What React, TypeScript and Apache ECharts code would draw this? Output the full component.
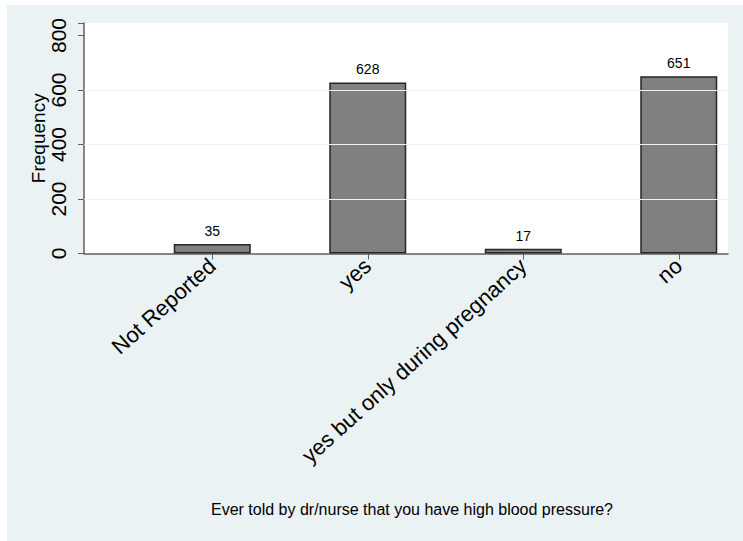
import React, { useEffect, useRef } from "react";
import * as echarts from "echarts";

const categories = ["Not Reported", "yes", "yes but only during pregnancy", "no"];
const frequencies = [35, 628, 17, 651];
const yTicks = [0, 200, 400, 600, 800];
const gridValues = [200, 400, 600];
const yAxisTitle = "Frequency";
const xAxisTitle = "Ever told by dr/nurse that you have high blood pressure?";

const FONT = "'Liberation Sans', Arial, Helvetica, sans-serif";
const BG = "#EAF2F3";
const AXIS = "#5f5f5f";
const YMAX = 846;

export default function App() {
  const ref = useRef<HTMLDivElement>(null);
  useEffect(() => {
    if (!ref.current) return;
    document.body.style.margin = "0";
    document.documentElement.style.overflow = "hidden";
    const chart = echarts.init(ref.current, undefined, { renderer: "svg" });
    const plotLeft = 84;
    const plotRight = 728;
    const plotTop = 23;
    const plotBottom = 253.5;
    const plotH = plotBottom - plotTop;
    chart.setOption({
      animation: false,
      backgroundColor: BG,
      textStyle: { fontFamily: FONT },
      graphic: [
        { type: "rect", z: 100, shape: { x: 0, y: 0, width: 780, height: 5 }, style: { fill: "#fff" } },
        { type: "rect", z: 100, shape: { x: 0, y: 0, width: 7, height: 580 }, style: { fill: "#fff" } },
        {
          type: "text",
          z: 100,
          x: 412,
          y: 509,
          style: {
            text: xAxisTitle,
            fontSize: 16,
            fontFamily: FONT,
            fill: "#000",
            align: "center",
            verticalAlign: "middle",
          },
        },
      ],
      grid: [
        {
          left: plotLeft,
          width: plotRight - plotLeft,
          top: plotTop,
          height: plotH,
          show: true,
          backgroundColor: "#ffffff",
          borderWidth: 0,
        },
        {
          left: 134.5,
          width: 622,
          top: plotTop,
          height: plotH,
        },
      ],
      xAxis: [
        {
          gridIndex: 0,
          type: "value",
          min: 0,
          max: 1,
          axisLine: { show: true, lineStyle: { color: AXIS, width: 1.5 } },
          axisTick: { show: false },
          axisLabel: { show: false },
          splitLine: { show: false },
        },
        {
          gridIndex: 1,
          type: "category",
          data: categories,
          axisLine: { show: false },
          axisTick: { show: true, alignWithLabel: true, length: 6, lineStyle: { color: AXIS, width: 1 } },
          axisLabel: {
            rotate: 42,
            fontSize: 22,
            color: "#000",
            fontFamily: FONT,
            margin: 9,
            interval: 0,
          },
          splitLine: { show: false },
        },
      ],
      yAxis: [
        {
          gridIndex: 0,
          type: "value",
          min: 0,
          max: YMAX,
          interval: 200,
          name: yAxisTitle,
          nameLocation: "middle",
          nameRotate: 90,
          nameGap: 36.5,
          nameMoveOverlap: false,
          nameTextStyle: { fontSize: 19, color: "#000", fontFamily: FONT },
          axisLine: { show: true, lineStyle: { color: AXIS, width: 1.5 } },
          axisTick: { show: true, length: 6, lineStyle: { color: AXIS, width: 1 } },
          axisLabel: {
            rotate: 90,
            fontSize: 21,
            color: "#000",
            fontFamily: FONT,
            margin: 15,
            formatter: (v: number) => (yTicks.includes(v) ? String(v) : ""),
          },
          splitLine: { show: false },
        },
        {
          gridIndex: 1,
          type: "value",
          min: 0,
          max: YMAX,
          show: false,
          splitLine: { show: false },
        },
      ],
      series: [
        {
          type: "line",
          xAxisIndex: 0,
          yAxisIndex: 0,
          data: [],
          markLine: {
            silent: true,
            symbol: "none",
            label: { show: false },
            lineStyle: { color: BG, type: "solid", width: 1 },
            data: gridValues.map((v) => ({ yAxis: v })),
          },
        },
        {
          type: "bar",
          xAxisIndex: 1,
          yAxisIndex: 1,
          data: frequencies,
          barWidth: 77,
          itemStyle: { color: "#808080", borderColor: "#262626", borderWidth: 1.5 },
          label: {
            show: true,
            position: "top",
            distance: 6,
            fontSize: 14,
            color: "#000",
            fontFamily: FONT,
          },
        },
      ],
    });
    return () => chart.dispose();
  }, []);
  return (
    <div
      ref={ref}
      style={{ position: "fixed", left: 0, top: 0, width: 780, height: 580 }}
    />
  );
}
